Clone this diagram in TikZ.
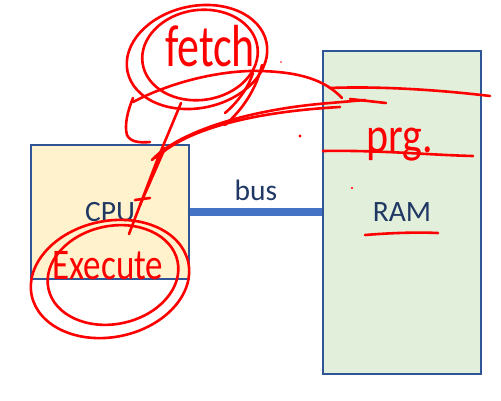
\documentclass[tikz,border=0pt]{standalone}
\usepackage{fontspec}
\setmainfont{Carlito}
\definecolor{boxblue}{HTML}{2F5597}
\definecolor{busblue}{HTML}{4472C4}
\definecolor{navy}{HTML}{1F3864}
\definecolor{cpufill}{HTML}{FFF2CC}
\definecolor{ramfill}{HTML}{E2EFDA}
\definecolor{inkred}{HTML}{FF0000}
\begin{document}
\begin{tikzpicture}[x=1pt,y=-1pt,
  box/.style={draw=boxblue, line width=1.5pt, inner sep=0pt, text=navy, font=\fontsize{29.5}{30}\selectfont},
  lbl/.style={text=navy, inner sep=0pt, font=\fontsize{29.5}{30}\selectfont},
  busline/.style={draw=busblue, line width=8pt},
  ink/.style={draw=inkred, line width=2.6pt, line cap=round, line join=round},
  inkdot/.style={fill=inkred},
  inktext/.style={text=inkred, inner sep=0pt, font=\fontsize{#1}{#1}\selectfont}]
\useasboundingbox (0,0) rectangle (501,401);
% boxes
\node[box, fill=cpufill, minimum width=158pt, minimum height=134pt] (cpu) at (110,212) {CPU};
\node[box, fill=ramfill, minimum width=158pt, minimum height=323pt] (ram) at (402,212.5) {RAM};
\draw[busline] (cpu.east) -- (ram.west |- cpu.east);
\node[lbl] (buslbl) at (256,190) {bus};
% handwritten words
\node[inktext=44] (fetch) at (210,46) {\scalebox{1}[1.35]{fetch}};
\node[inktext=35] (exec) at (108,266) {\scalebox{1}[1.25]{Execute}};
\node[inktext=42] (prg) at (400,145) {\scalebox{1}[1.2]{prg.}};
% fetch loops
\draw[ink, rotate around={12:(197,57)}] (197,57) ellipse [x radius=71, y radius=51];
\draw[ink, rotate around={8:(200,55)}] (200,55) ellipse [x radius=58, y radius=45];
% execute loops
\draw[ink, rotate around={12:(110,279)}] (110,279) ellipse [x radius=80, y radius=58];
\draw[ink, rotate around={12:(113,275)}] (113,275) ellipse [x radius=66, y radius=49];
% long curves from fetch towards RAM
\draw[ink] (133,102) .. controls (175,80) and (225,70) .. (260,71) .. controls (300,72) and (325,80) .. (342,98);
\draw[ink] (133,98) .. controls (128,110) and (124,125) .. (127,135) .. controls (130,142) and (140,143) .. (150,142);
\draw[ink] (152,160) .. controls (175,135) and (240,110) .. (330,103) -- (365,100);
\draw[ink] (156,158) .. controls (185,130) and (250,112) .. (340,107);
\draw[ink] (350,99) -- (386,103);
% lines down to execute
\draw[ink] (181,103) -- (158,158) -- (129,234);
\draw[ink] (165,148) -- (140,205);
\draw[ink] (135,200) -- (150,198);
\draw[ink] (262,65) .. controls (256,90) and (242,110) .. (225,125);
\draw[ink] (253,73) .. controls (248,88) and (238,102) .. (225,113);
% RAM strikes
\draw[ink] (330,88) .. controls (380,86) and (440,90) .. (490,96);
\draw[ink] (323,151) .. controls (380,150) and (430,155) .. (473,156);
\draw[ink] (365,235) .. controls (390,233) and (415,232) .. (438,233);
% dots
\fill[inkdot] (300,136) circle [radius=1.6];
\fill[inkdot] (352,188) circle [radius=1.2];
\fill[inkdot] (281,62) circle [radius=0.8];
\end{tikzpicture}
\end{document}
